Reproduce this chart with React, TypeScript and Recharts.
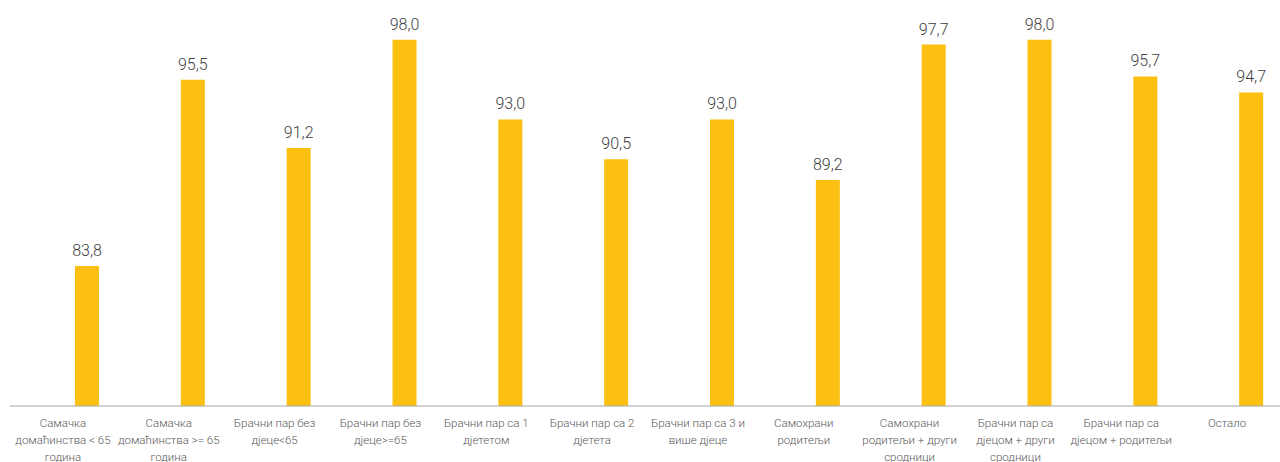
import { Bar, BarChart, LabelList, XAxis, YAxis } from "recharts"

const categories = [
  "Самачка\nдомаћинства < 65\nгодина",
  "Самачка\nдомаћинства >= 65\nгодина",
  "Брачни пар без\nдјеце<65",
  "Брачни пар без\nдјеце>=65",
  "Брачни пар са 1\nдјететом",
  "Брачни пар са 2\nдјетета",
  "Брачни пар са 3 и\nвише дјеце",
  "Самохрани\nродитељи",
  "Самохрани\nродитељи + други\nсродници",
  "Брачни пар са\nдјецом + други\nсродници",
  "Брачни пар са\nдјецом + родитељи",
  "Остало",
]

const values = [83.8, 95.5, 91.2, 98.0, 93.0, 90.5, 93.0, 89.2, 97.7, 98.0, 95.7, 94.7]

// category boundaries, used only for the small tick marks under the axis
const edgeTicks = [0, 1, 2, 3, 4, 5, 6, 7, 8, 9, 10, 11, 12]

const data = categories.map((name, i) => ({ name, value: values[i] }))

const fmt = (v: number) => v.toFixed(1).replace(".", ",")

function CategoryTick(props: any) {
  const { x, y, payload } = props
  const lines = String(payload.value).split("\n")
  return (
    <text x={x} y={y} textAnchor="middle" fill="#595959" fontSize={11.5} fontWeight={300} fontFamily="Roboto">
      {lines.map((line, i) => (
        <tspan key={i} x={x} dy={i === 0 ? 12 : 17}>
          {line}
        </tspan>
      ))}
    </text>
  )
}

export default function App() {
  return (
    <div style={{ position: "absolute", left: 0, top: 0 }}>
      <BarChart
        width={1280}
        height={462}
        data={data}
        margin={{ top: 8, right: 0, bottom: 0, left: 10 }}
        barSize={24}
        barGap={24}
      >
        <XAxis
          xAxisId="a"
          type="number"
          domain={[0, 12]}
          ticks={edgeTicks}
          tick={false}
          height={1}
          tickSize={4}
          axisLine={{ stroke: "#a6a6a6" }}
          tickLine={{ stroke: "#a6a6a6" }}
          allowDataOverflow
        />
        <XAxis
          xAxisId="b"
          dataKey="name"
          interval={0}
          height={55}
          axisLine={false}
          tickLine={false}
          tick={<CategoryTick />}
        />
        <YAxis hide domain={[75, 100]} allowDataOverflow />
        <Bar xAxisId="b" dataKey="blank" fill="transparent" isAnimationActive={false} />
        <Bar xAxisId="b" dataKey="value" fill="#FCC012" isAnimationActive={false}>
          <LabelList
            dataKey="value"
            position="top"
            offset={10}
            formatter={(v: any) => fmt(Number(v))}
            fill="#404040"
            fontSize={16}
            fontWeight={300}
            fontFamily="Roboto"
          />
        </Bar>
      </BarChart>
    </div>
  )
}
